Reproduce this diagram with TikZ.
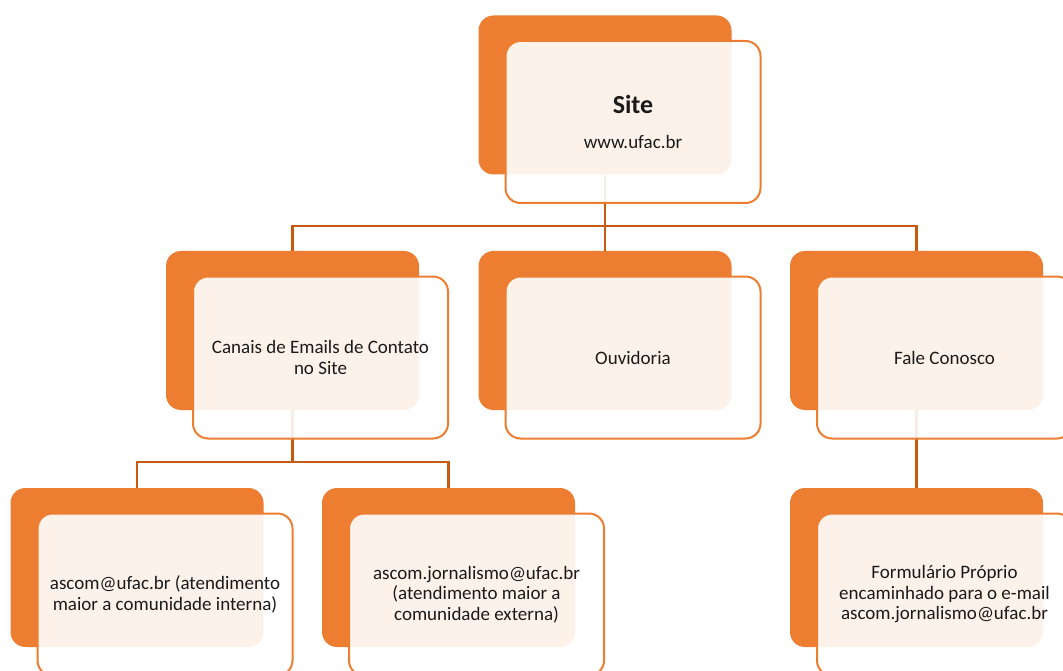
\documentclass[tikz,border=0pt]{standalone}
\usepackage{fontspec}
\setmainfont{Carlito}
\usetikzlibrary{positioning}

\definecolor{ufacorange}{HTML}{ED7D31}
\definecolor{ufacline}{HTML}{C55A11}
\definecolor{ufactext}{HTML}{1A1A1A}

\begin{document}
\begin{tikzpicture}[x=1pt, y=-1pt,
    backbox/.style={fill=ufacorange, rounded corners=15pt, minimum width=253pt,
        minimum height=159pt, inner sep=0pt},
    frontbox/.style={draw=ufacorange, line width=2pt, fill=white, fill opacity=0.9,
        text opacity=1, rounded corners=15pt, minimum width=255pt, minimum height=162pt,
        inner sep=0pt, align=center, text=ufactext,
        font=\fontsize{19}{20.5}\selectfont},
    link/.style={draw=ufacline, line width=2.5pt}]

    \clip (0,0) rectangle (1063,671);

    % Orange back cards
    \foreach \n/\x/\y in {site/605/95, canais/292.5/330.5, ouv/605/330.5, fale/916.5/330.5,
                          ascom/137/567.5, jorn/448.5/567.5, form/916.5/567.5}
        \node[backbox] (\n B) at (\x,\y) {};

    % Connectors
    \coordinate (busA) at (0,226);
    \coordinate (busB) at (0,462);
    \draw[link] (siteB.south) -- (siteB.south |- busA) -| (canaisB.north);
    \draw[link] (siteB.south |- busA) -| (faleB.north);
    \draw[link] (siteB.south) -- (ouvB.north);
    \draw[link] (canaisB.south) -- (canaisB.south |- busB) -| (ascomB.north);
    \draw[link] (canaisB.south |- busB) -| (jornB.north);
    \draw[link] (faleB.south) -- (formB.north);

    % Light front cards with the texts
    \node[frontbox] (siteF) at ([xshift=28pt, yshift=-27pt]siteB)
        {{\fontsize{26}{30}\selectfont\bfseries Site}\\[15pt]www.ufac.br};
    \node[frontbox] (canaisF) at ([xshift=28pt, yshift=-27pt]canaisB)
        {Canais de Emails de Contato\\no Site};
    \node[frontbox] (ouvF) at ([xshift=28pt, yshift=-27pt]ouvB) {Ouvidoria};
    \node[frontbox] (faleF) at ([xshift=28pt, yshift=-27pt]faleB) {Fale Conosco};
    \node[frontbox] (ascomF) at ([xshift=28pt, yshift=-27pt]ascomB)
        {ascom@ufac.br (atendimento\\maior a comunidade interna)};
    \node[frontbox] (jornF) at ([xshift=28pt, yshift=-27pt]jornB)
        {ascom.jornalismo@ufac.br\\(atendimento maior a\\comunidade externa)};
    \node[frontbox] (formF) at ([xshift=28pt, yshift=-27pt]formB)
        {Formulário Próprio\\encaminhado para o e-mail\\ascom.jornalismo@ufac.br};

\end{tikzpicture}
\end{document}
